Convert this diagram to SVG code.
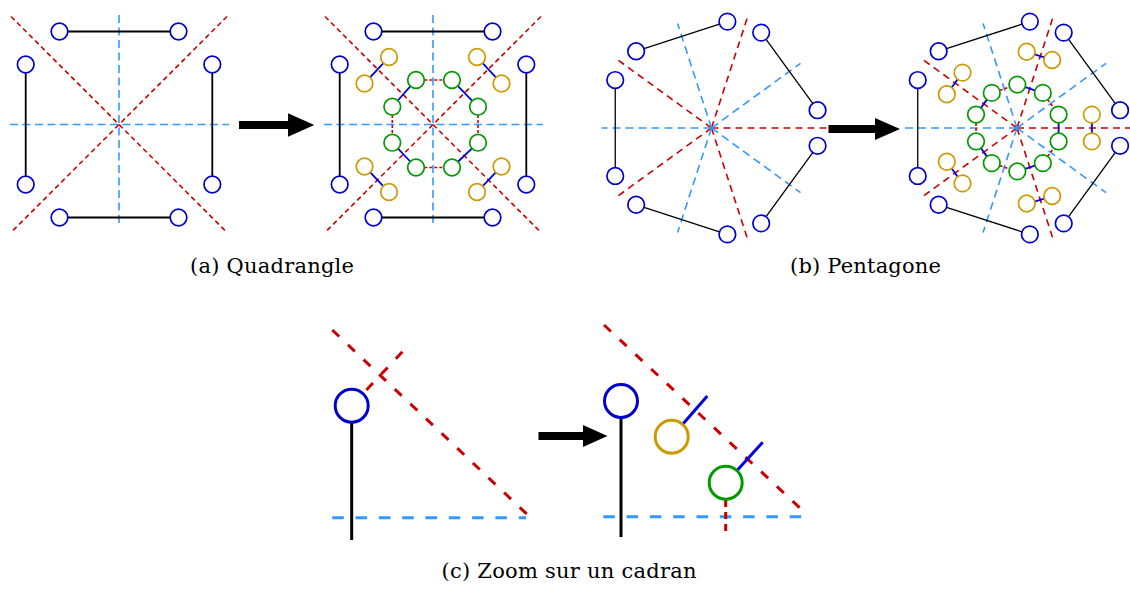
<svg xmlns="http://www.w3.org/2000/svg" width="1130" height="590" viewBox="0 0 1130 590">
<style>
.nb{fill:#fff;stroke:#0000CC;stroke-width:1.7}
.no{fill:#fff;stroke:#CC9900;stroke-width:1.7}
.ng{fill:#fff;stroke:#009900;stroke-width:1.7}
.ea{stroke:#000;stroke-width:1.8;fill:none}
.eb{stroke:#000;stroke-width:1.3;fill:none}
.rd{stroke:#CC0000;stroke-width:1.6;stroke-dasharray:5 3.5;fill:none}
.bd{stroke:#3399FF;stroke-width:1.6;stroke-dasharray:8 4.5;fill:none}
.rdb{stroke:#CC0000;stroke-width:1.6;stroke-dasharray:7 5;fill:none}
.bdb{stroke:#3399FF;stroke-width:1.6;stroke-dasharray:8 5;fill:none}
.rc{stroke:#CC0000;stroke-width:1.6;stroke-dasharray:3 2;fill:none}
.cb{stroke:#0000DD;stroke-width:1.8;fill:none}
.big{stroke-width:3}
.nbc{fill:#fff;stroke:#0000CC;stroke-width:3}
.noc{fill:#fff;stroke:#CC9900;stroke-width:3}
.ngc{fill:#fff;stroke:#009900;stroke-width:3}
.rdc{stroke:#CC0000;stroke-width:3;stroke-dasharray:9.5 12;fill:none}
.bdc{stroke:#3399FF;stroke-width:3;stroke-dasharray:11.5 11.8;fill:none}
.arrow{fill:#000}
text{font-family:"DejaVu Serif","Liberation Serif",serif;font-size:21px;fill:#000;text-anchor:middle}
</style>

<!-- ================= Panel (a) ================= -->
<g id="axes-a">
  <line class="bd" x1="10" y1="124.5" x2="229" y2="124.5"/>
  <line class="bd" x1="119" y1="15" x2="119" y2="227"/>
  <line class="rd" x1="11" y1="16.5" x2="227" y2="232.5"/>
  <line class="rd" x1="227" y1="16.5" x2="11" y2="232.5"/>
  <line class="bd" x1="324" y1="124.5" x2="543" y2="124.5"/>
  <line class="bd" x1="433" y1="15" x2="433" y2="227"/>
  <line class="rd" x1="325" y1="16.5" x2="541" y2="232.5"/>
  <line class="rd" x1="541" y1="16.5" x2="325" y2="232.5"/>
</g>

<g id="connectors-a">
  <line class="ea" x1="67.8" y1="31.5" x2="170.2" y2="31.5"/>
  <line class="ea" x1="67.8" y1="217.5" x2="170.2" y2="217.5"/>
  <line class="ea" x1="25.7" y1="72.8" x2="25.7" y2="176.2"/>
  <line class="ea" x1="212.3" y1="72.8" x2="212.3" y2="176.2"/>
  <line class="ea" x1="381.8" y1="31.5" x2="484.2" y2="31.5"/>
  <line class="ea" x1="381.8" y1="217.5" x2="484.2" y2="217.5"/>
  <line class="ea" x1="339.7" y1="72.8" x2="339.7" y2="176.2"/>
  <line class="ea" x1="526.3" y1="72.8" x2="526.3" y2="176.2"/>
  <line class="cb" x1="383.37" y1="63.09" x2="370.13" y2="77.41"/>
  <line class="cb" x1="482.63" y1="63.09" x2="495.87" y2="77.41"/>
  <line class="cb" x1="370.25" y1="172.48" x2="383.25" y2="186.02"/>
  <line class="cb" x1="495.75" y1="172.48" x2="482.75" y2="186.02"/>
  <line class="cb" x1="410.49" y1="86.21" x2="397.81" y2="100.49"/>
  <line class="cb" x1="457.79" y1="85.94" x2="472.21" y2="100.76"/>
  <line class="cb" x1="398.04" y1="148.7" x2="410.26" y2="161.5"/>
  <line class="cb" x1="471.99" y1="148.43" x2="458.01" y2="161.77"/>
  <line class="rc" x1="424.3" y1="80" x2="443.7" y2="80"/>
  <line class="rc" x1="424.3" y1="167.5" x2="443.7" y2="167.5"/>
  <line class="rc" x1="392.3" y1="115" x2="392.3" y2="134.4"/>
  <line class="rc" x1="478" y1="115" x2="478" y2="134.4"/>
</g>

<g id="a-L1"><circle class="nb" cx="59.5" cy="31.5" r="8.3"/></g>
<g id="a-L2"><circle class="nb" cx="178.5" cy="31.5" r="8.3"/></g>
<g id="a-L3"><circle class="nb" cx="25.7" cy="64.5" r="8.3"/></g>
<g id="a-L4"><circle class="nb" cx="212.3" cy="64.5" r="8.3"/></g>
<g id="a-L5"><circle class="nb" cx="25.7" cy="184.5" r="8.3"/></g>
<g id="a-L6"><circle class="nb" cx="212.3" cy="184.5" r="8.3"/></g>
<g id="a-L7"><circle class="nb" cx="59.5" cy="217.5" r="8.3"/></g>
<g id="a-L8"><circle class="nb" cx="178.5" cy="217.5" r="8.3"/></g>

<g id="a-R1"><circle class="nb" cx="373.5" cy="31.5" r="8.3"/></g>
<g id="a-R2"><circle class="nb" cx="492.5" cy="31.5" r="8.3"/></g>
<g id="a-R3"><circle class="nb" cx="339.7" cy="64.5" r="8.3"/></g>
<g id="a-R4"><circle class="nb" cx="526.3" cy="64.5" r="8.3"/></g>
<g id="a-R5"><circle class="nb" cx="339.7" cy="184.5" r="8.3"/></g>
<g id="a-R6"><circle class="nb" cx="526.3" cy="184.5" r="8.3"/></g>
<g id="a-R7"><circle class="nb" cx="373.5" cy="217.5" r="8.3"/></g>
<g id="a-R8"><circle class="nb" cx="492.5" cy="217.5" r="8.3"/></g>

<g id="a-O1"><circle class="no" cx="389" cy="57" r="8.3"/></g>
<g id="a-O2"><circle class="no" cx="364.5" cy="83.5" r="8.3"/></g>
<g id="a-O3"><circle class="no" cx="477" cy="57" r="8.3"/></g>
<g id="a-O4"><circle class="no" cx="501.5" cy="83.5" r="8.3"/></g>
<g id="a-O5"><circle class="no" cx="364.5" cy="166.5" r="8.3"/></g>
<g id="a-O6"><circle class="no" cx="389" cy="192" r="8.3"/></g>
<g id="a-O7"><circle class="no" cx="477" cy="192" r="8.3"/></g>
<g id="a-O8"><circle class="no" cx="501.5" cy="166.5" r="8.3"/></g>

<g id="a-G1"><circle class="ng" cx="416" cy="80" r="8.3"/></g>
<g id="a-G2"><circle class="ng" cx="452" cy="80" r="8.3"/></g>
<g id="a-G3"><circle class="ng" cx="392.3" cy="106.7" r="8.3"/></g>
<g id="a-G4"><circle class="ng" cx="478" cy="106.7" r="8.3"/></g>
<g id="a-G5"><circle class="ng" cx="392.3" cy="142.7" r="8.3"/></g>
<g id="a-G6"><circle class="ng" cx="478" cy="142.7" r="8.3"/></g>
<g id="a-G7"><circle class="ng" cx="416" cy="167.5" r="8.3"/></g>
<g id="a-G8"><circle class="ng" cx="452" cy="167.5" r="8.3"/></g>

<path id="arrow-a" class="arrow" d="M239,121 H288 V113.3 L314.3,125 L288,136.7 V129 H239 Z"/>
<text x="272" y="273" textLength="164" lengthAdjust="spacing">(a) Quadrangle</text>

<!-- ================= Panel (b) ================= -->
<g id="axes-b">
  <line class="rdb" x1="711.5" y1="128" x2="828" y2="128"/>
  <line class="rdb" x1="711.5" y1="128" x2="748.58" y2="242.13"/>
  <line class="rdb" x1="711.5" y1="128" x2="614.42" y2="198.53"/>
  <line class="rdb" x1="711.5" y1="128" x2="614.42" y2="57.47"/>
  <line class="rdb" x1="711.5" y1="128" x2="748.58" y2="13.87"/>
  <line class="bdb" x1="711.5" y1="128" x2="800.49" y2="192.66"/>
  <line class="bdb" x1="711.5" y1="128" x2="677.51" y2="232.62"/>
  <line class="bdb" x1="711.5" y1="128" x2="601.5" y2="128"/>
  <line class="bdb" x1="711.5" y1="128" x2="677.51" y2="23.38"/>
  <line class="bdb" x1="711.5" y1="128" x2="800.49" y2="63.34"/>

  <line class="rdb" x1="1017" y1="128" x2="1130" y2="128"/>
  <line class="rdb" x1="1017" y1="128" x2="1054.08" y2="242.13"/>
  <line class="rdb" x1="1017" y1="128" x2="919.92" y2="198.53"/>
  <line class="rdb" x1="1017" y1="128" x2="919.92" y2="57.47"/>
  <line class="rdb" x1="1017" y1="128" x2="1054.08" y2="13.87"/>
  <line class="bdb" x1="1017" y1="128" x2="1105.99" y2="192.66"/>
  <line class="bdb" x1="1017" y1="128" x2="983.01" y2="232.62"/>
  <line class="bdb" x1="1017" y1="128" x2="902" y2="128"/>
  <line class="bdb" x1="1017" y1="128" x2="983.01" y2="23.38"/>
  <line class="bdb" x1="1017" y1="128" x2="1105.99" y2="63.34"/>
</g>

<g id="connectors-b">
  <line class="eb" x1="812.69" y1="152.51" x2="766.08" y2="216.67"/>
  <line class="eb" x1="719.45" y1="231.82" x2="644.05" y2="207.31"/>
  <line class="eb" x1="615.23" y1="167.65" x2="615.23" y2="88.35"/>
  <line class="eb" x1="644.05" y1="48.69" x2="719.45" y2="24.18"/>
  <line class="eb" x1="766.08" y1="39.33" x2="812.69" y2="103.49"/>

  <line class="eb" x1="1115.19" y1="152.51" x2="1068.58" y2="216.67"/>
  <line class="eb" x1="1021.95" y1="231.82" x2="946.55" y2="207.31"/>
  <line class="eb" x1="917.73" y1="167.65" x2="917.73" y2="88.35"/>
  <line class="eb" x1="946.55" y1="48.69" x2="1021.95" y2="24.18"/>
  <line class="eb" x1="1068.58" y1="39.33" x2="1115.19" y2="103.49"/>

  <line class="cb" x1="1091.83" y1="122.93" x2="1091.83" y2="133.07"/>
  <line class="cb" x1="1034.61" y1="201.69" x2="1044.25" y2="198.55"/>
  <line class="cb" x1="951.67" y1="168.47" x2="957.63" y2="176.67"/>
  <line class="cb" x1="957.63" y1="79.33" x2="951.67" y2="87.53"/>
  <line class="cb" x1="1044.25" y1="57.45" x2="1034.61" y2="54.31"/>

  <line class="cb" x1="1058.58" y1="122.9" x2="1058.58" y2="133.1"/>
  <line class="cb" x1="1025.21" y1="168.84" x2="1034.91" y2="165.68"/>
  <line class="cb" x1="980.9" y1="148.13" x2="986.9" y2="156.39"/>
  <line class="cb" x1="986.9" y1="99.61" x2="980.9" y2="107.87"/>
  <line class="cb" x1="1034.91" y1="90.32" x2="1025.21" y2="87.16"/>
  <line class="rc" x1="1047.7" y1="156.39" x2="1053.7" y2="148.13"/>
  <line class="rc" x1="999.69" y1="165.68" x2="1009.39" y2="168.84"/>
  <line class="rc" x1="976.02" y1="122.9" x2="976.02" y2="133.1"/>
  <line class="rc" x1="999.69" y1="90.32" x2="1009.39" y2="87.16"/>
  <line class="rc" x1="1047.7" y1="99.61" x2="1053.7" y2="107.87"/>
</g>

<g id="b-L1"><circle class="nb" cx="817.57" cy="145.8" r="8.3"/></g>
<g id="b-L2"><circle class="nb" cx="761.2" cy="223.38" r="8.3"/></g>
<g id="b-L3"><circle class="nb" cx="727.35" cy="234.38" r="8.3"/></g>
<g id="b-L4"><circle class="nb" cx="636.15" cy="204.75" r="8.3"/></g>
<g id="b-L5"><circle class="nb" cx="615.23" cy="175.95" r="8.3"/></g>
<g id="b-L6"><circle class="nb" cx="615.23" cy="80.05" r="8.3"/></g>
<g id="b-L7"><circle class="nb" cx="636.15" cy="51.25" r="8.3"/></g>
<g id="b-L8"><circle class="nb" cx="727.35" cy="21.62" r="8.3"/></g>
<g id="b-L9"><circle class="nb" cx="761.2" cy="32.62" r="8.3"/></g>
<g id="b-L10"><circle class="nb" cx="817.57" cy="110.2" r="8.3"/></g>

<g id="b-R1"><circle class="nb" cx="1120.07" cy="145.8" r="8.3"/></g>
<g id="b-R2"><circle class="nb" cx="1063.7" cy="223.38" r="8.3"/></g>
<g id="b-R3"><circle class="nb" cx="1029.85" cy="234.38" r="8.3"/></g>
<g id="b-R4"><circle class="nb" cx="938.65" cy="204.75" r="8.3"/></g>
<g id="b-R5"><circle class="nb" cx="917.73" cy="175.95" r="8.3"/></g>
<g id="b-R6"><circle class="nb" cx="917.73" cy="80.05" r="8.3"/></g>
<g id="b-R7"><circle class="nb" cx="938.65" cy="51.25" r="8.3"/></g>
<g id="b-R8"><circle class="nb" cx="1029.85" cy="21.62" r="8.3"/></g>
<g id="b-R9"><circle class="nb" cx="1063.7" cy="32.62" r="8.3"/></g>
<g id="b-R10"><circle class="nb" cx="1120.07" cy="110.2" r="8.3"/></g>

<g id="b-O1"><circle class="no" cx="1091.83" cy="114.63" r="8.3"/></g>
<g id="b-O2"><circle class="no" cx="1091.83" cy="141.37" r="8.3"/></g>
<g id="b-O3"><circle class="no" cx="1052.15" cy="195.98" r="8.3"/></g>
<g id="b-O4"><circle class="no" cx="1026.72" cy="203.5" r="8.3"/></g>
<g id="b-O5"><circle class="no" cx="962.51" cy="183.39" r="8.3"/></g>
<g id="b-O6"><circle class="no" cx="946.79" cy="161.76" r="8.3"/></g>
<g id="b-O7"><circle class="no" cx="946.79" cy="94.24" r="8.3"/></g>
<g id="b-O8"><circle class="no" cx="962.51" cy="72.61" r="8.3"/></g>
<g id="b-O9"><circle class="no" cx="1026.72" cy="51.75" r="8.3"/></g>
<g id="b-O10"><circle class="no" cx="1052.15" cy="60.02" r="8.3"/></g>

<g id="b-G1"><circle class="ng" cx="1058.58" cy="141.41" r="8.3"/></g>
<g id="b-G2"><circle class="ng" cx="1042.81" cy="163.11" r="8.3"/></g>
<g id="b-G3"><circle class="ng" cx="1017.3" cy="171.4" r="8.3"/></g>
<g id="b-G4"><circle class="ng" cx="991.79" cy="163.11" r="8.3"/></g>
<g id="b-G5"><circle class="ng" cx="976.02" cy="141.41" r="8.3"/></g>
<g id="b-G6"><circle class="ng" cx="976.02" cy="114.59" r="8.3"/></g>
<g id="b-G7"><circle class="ng" cx="991.79" cy="92.89" r="8.3"/></g>
<g id="b-G8"><circle class="ng" cx="1017.3" cy="84.6" r="8.3"/></g>
<g id="b-G9"><circle class="ng" cx="1042.81" cy="92.89" r="8.3"/></g>
<g id="b-G10"><circle class="ng" cx="1058.58" cy="114.59" r="8.3"/></g>

<path id="arrow-b" class="arrow" d="M828.5,125 H875 V118 L900,129 L875,140 V133 H828.5 Z"/>
<text x="865.5" y="273" textLength="151" lengthAdjust="spacing">(b) Pentagone</text>

<!-- ================= Panel (c) ================= -->
<g id="axes-c">
  <line class="rdc" x1="332.3" y1="330" x2="530.7" y2="517.7"/>
  <line class="rdc" x1="351.7" y1="405.7" x2="403.5" y2="350.5"/>
  <line class="bdc" x1="332.3" y1="517.7" x2="526" y2="517.7"/>
  <line class="rdc" x1="604" y1="325" x2="808.3" y2="515.7"/>
  <line class="bdc" x1="603.3" y1="516.7" x2="807" y2="516.7"/>
</g>

<g id="connectors-c">
  <line class="ea big" x1="351.7" y1="420" x2="351.7" y2="540"/>
  <line class="ea big" x1="621" y1="416" x2="621" y2="537"/>
  <line class="cb big" x1="682.9" y1="423.9" x2="707.3" y2="396"/>
  <line class="cb big" x1="737.2" y1="470.2" x2="762.7" y2="442.3"/>
  <line class="rdc" style="stroke-dasharray:7 5" x1="725.7" y1="500" x2="725.7" y2="535"/>
</g>

<g id="c-L1"><circle class="nbc" cx="351.7" cy="405.7" r="16.5"/></g>
<g id="c-R1"><circle class="nbc" cx="621" cy="401" r="16.5"/></g>
<g id="c-O1"><circle class="noc" cx="671.7" cy="436.7" r="16.5"/></g>
<g id="c-G1"><circle class="ngc" cx="725.7" cy="482.7" r="16.5"/></g>

<path id="arrow-c" class="arrow" d="M538.5,432 H583 V425 L607.5,436 L583,447 V440 H538.5 Z"/>
<text x="569" y="578" textLength="255" lengthAdjust="spacing">(c) Zoom sur un cadran</text>
</svg>
